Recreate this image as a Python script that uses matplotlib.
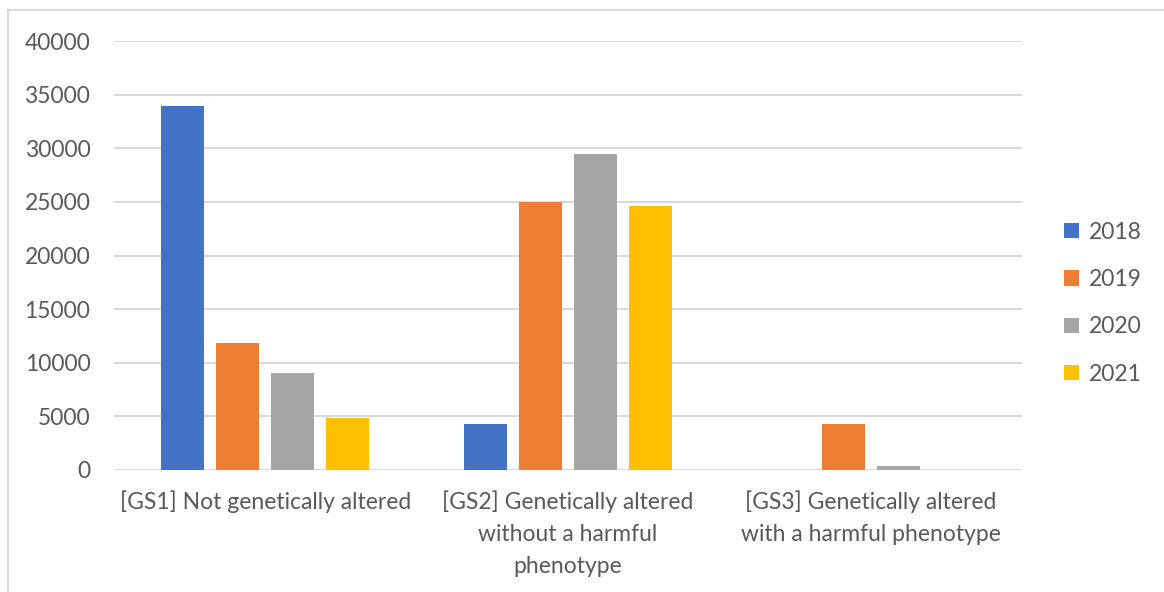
import numpy as np
import matplotlib.pyplot as plt
from matplotlib.patches import Rectangle

plt.rcParams['font.family'] = ['Lato', 'DejaVu Sans']

categories = ['[GS1] Not genetically altered',
              '[GS2] Genetically altered\nwithout a harmful\nphenotype',
              '[GS3] Genetically altered\nwith a harmful phenotype']
years = ['2018', '2019', '2020', '2021']
counts_2018 = [33900, 4250, 0]
counts_2019 = [11850, 24950, 4300]
counts_2020 = [9050, 29450, 350]
counts_2021 = [4850, 24650, 0]
colors = ['#4472C4', '#ED7D31', '#A5A5A5', '#FFC000']

series = [counts_2018, counts_2019, counts_2020, counts_2021]

fig = plt.figure(figsize=(11.64, 5.92), dpi=100)
ax = fig.add_axes([114/1164, 1-470/592, (1022-114)/1164, (470-41)/592])

x = np.arange(len(categories))
pitch = 0.182
width = 0.142
for i, (vals, yr, c) in enumerate(zip(series, years, colors)):
    ax.bar(x + (i - 1.5)*pitch, vals, width, color=c, label=yr, zorder=3)

ax.set_xlim(-0.5, 2.5)
ax.set_ylim(0, 40000)
ax.set_yticks(np.arange(0, 40001, 5000))
ax.grid(axis='y', color='#D9D9D9', linewidth=1.5, zorder=0)
for s in ax.spines.values():
    s.set_visible(False)
ax.tick_params(axis='y', length=0, pad=17, labelsize=16.5, labelcolor='#595959')
ax.tick_params(axis='x', length=0, pad=15, labelsize=16.5, labelcolor='#595959')
ax.set_xticks(x)
ax.set_xticklabels(categories, linespacing=1.62)

leg = ax.legend(loc='center left', bbox_to_anchor=(1.024, 0.389), frameon=False,
                fontsize=16.5, labelcolor='#595959', handlelength=0.65,
                handleheight=0.65, handletextpad=0.4, labelspacing=1.15)

# thin frame around the chart area
fig.add_artist(Rectangle((8/1164, -0.1), 1.2, 1 - 10/592 + 0.1, fill=False,
                         edgecolor='#D9D9D9', linewidth=1.5,
                         transform=fig.transFigure))

fig.savefig('out.png', dpi=100)
